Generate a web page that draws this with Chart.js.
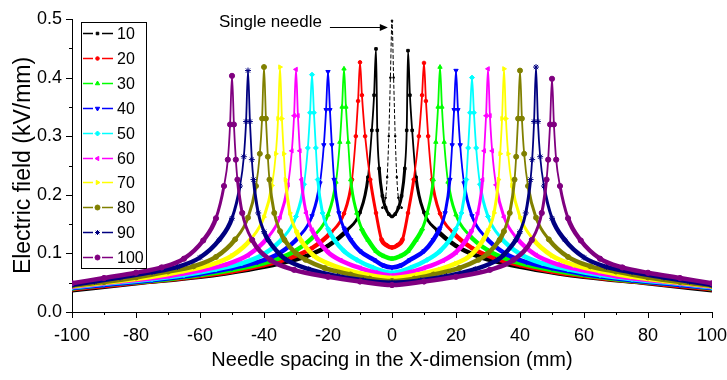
<!DOCTYPE html>
<html lang="en">
<head>
<meta charset="UTF-8">
<title>Electric field vs needle spacing</title>
<script src="https://cdn.jsdelivr.net/npm/chart.js"></script>
<style>
    body { margin: 0; background: #fff; }
</style>
</head>
<body>
<canvas id="fieldChart" width="727" height="380"></canvas>
<script>
    // needle spacing (mm) of each series
    const spacings = ['10', '20', '30', '40', '50', '60', '70', '80', '90', '100'];

    // [x (mm), E (kV/mm)]
    const s10 = [[-100,.037],[-80,.049],[-60,.060],[-45,.072],[-35,.083],[-27,.095],[-20,.113],[-14,.140],[-10,.170],[-7.5,.230],[-6.3,.31],[-5.6,.37],[-5,.449],
        [-4.6,.31],[-4,.245],[-3,.198],[-2,.178],[-1,.167],[0,.163],[1,.167],[2,.178],[3,.198],[4,.245],[4.6,.31],
        [5,.446],[5.6,.37],[6.3,.31],[7.5,.230],[10,.170],[14,.140],[20,.113],[27,.095],[35,.083],[45,.072],[60,.060],[80,.049],[100,.037]];
    const s20 = [[-100,.039],[-85,.047],[-65,.058],[-50,.069],[-40,.080],[-32,.092],[-25,.109],[-19,.136],[-15,.168],[-12.5,.226],[-11.3,.30],[-10.6,.36],[-10,.426],
        [-9.4,.37],[-8.4,.30],[-6.8,.226],[-5,.169],[-3.3,.124],[-1.7,.114],[0,.110],[1.7,.114],[3.3,.124],[5,.169],[6.8,.226],[8.4,.30],[9.4,.37],
        [10,.425],[10.6,.36],[11.3,.30],[12.5,.226],[15,.168],[19,.136],[25,.109],[32,.092],[40,.080],[50,.069],[65,.058],[85,.047],[100,.039]];
    const s30 = [[-100,.040],[-90,.046],[-70,.056],[-55,.067],[-45,.077],[-37,.088],[-30,.105],[-24,.132],[-20,.166],[-17.5,.222],[-16.3,.29],[-15.6,.35],[-15,.415],
        [-14.4,.35],[-13.7,.29],[-12.9,.226],[-11,.169],[-9.5,.142],[-7.5,.123],[-5,.104],[-2.5,.095],[0,.091],[2.5,.095],[5,.104],[7.5,.123],[9.5,.142],[11,.169],[12.9,.226],[13.7,.29],[14.4,.35],
        [15,.418],[15.6,.35],[16.3,.29],[17.5,.222],[20,.166],[24,.132],[30,.105],[37,.088],[45,.077],[55,.067],[70,.056],[90,.046],[100,.040]];
    const s40 = [[-100,.041],[-90,.046],[-75,.054],[-60,.065],[-50,.075],[-42,.085],[-35,.101],[-29,.129],[-25,.164],[-22.5,.220],[-21.3,.285],[-20.6,.345],[-20,.410],
        [-19.4,.345],[-18.8,.285],[-18.1,.226],[-16.6,.169],[-15,.143],[-12.9,.123],[-10,.104],[-5.6,.089],[-3,.080],[0,.076],[3,.080],[5.6,.089],[10,.104],[12.9,.123],[15,.143],[16.6,.169],[18.1,.226],[18.8,.285],[19.4,.345],
        [20,.412],[20.6,.345],[21.3,.285],[22.5,.220],[25,.164],[29,.129],[35,.101],[42,.085],[50,.075],[60,.065],[75,.054],[90,.046],[100,.041]];
    const s50 = [[-100,.042],[-90,.048],[-75,.056],[-65,.063],[-55,.073],[-47,.083],[-40,.099],[-34,.127],[-30,.163],[-27.5,.218],[-26.3,.28],[-25.6,.34],[-25,.405],
        [-24.4,.34],[-23.8,.28],[-23.2,.226],[-21.7,.169],[-20,.142],[-18,.123],[-15,.104],[-11,.089],[-6,.076],[0,.067],[6,.076],[11,.089],[15,.104],[18,.123],[20,.142],[21.7,.169],[23.2,.226],[23.8,.28],[24.4,.34],
        [25,.400],[25.6,.34],[26.3,.28],[27.5,.218],[30,.163],[34,.127],[40,.099],[47,.083],[55,.073],[65,.063],[75,.056],[90,.048],[100,.042]];
    const s60 = [[-100,.043],[-85,.052],[-70,.061],[-60,.071],[-52,.081],[-45,.097],[-39,.126],[-35,.162],[-32.5,.217],[-31.3,.275],[-30.6,.335],[-30,.414],
        [-29.4,.335],[-28.8,.275],[-28.3,.226],[-26.8,.169],[-25,.140],[-23.2,.123],[-20,.102],[-16,.088],[-10,.075],[-5,.067],[0,.062],[5,.067],[10,.075],[16,.088],[20,.102],[23.2,.123],[25,.140],[26.8,.169],[28.3,.226],[28.8,.275],[29.4,.335],
        [30,.415],[30.6,.335],[31.3,.275],[32.5,.217],[35,.162],[39,.126],[45,.097],[52,.081],[60,.071],[70,.061],[85,.052],[100,.043]];
    const s70 = [[-100,.044],[-85,.053],[-75,.060],[-65,.070],[-57,.080],[-50,.096],[-44,.125],[-40,.162],[-37.5,.216],[-36.3,.27],[-35.6,.33],[-35,.418],
        [-34.4,.33],[-33.8,.27],[-33.3,.226],[-31.9,.169],[-30,.139],[-28.5,.123],[-24.4,.096],[-20,.083],[-15,.073],[-8,.064],[0,.058],[8,.064],[15,.073],[20,.083],[24.4,.096],[28.5,.123],[30,.139],[31.9,.169],[33.3,.226],[33.8,.27],[34.4,.33],
        [35,.415],[35.6,.33],[36.3,.27],[37.5,.216],[40,.162],[44,.125],[50,.096],[57,.080],[65,.070],[75,.060],[85,.053],[100,.044]];
    const s80 = [[-100,.045],[-90,.051],[-80,.059],[-70,.069],[-62,.078],[-55,.094],[-49,.124],[-45,.161],[-42.5,.215],[-41.3,.27],[-40.6,.33],[-40,.418],
        [-39.4,.33],[-38.8,.265],[-38.3,.226],[-36.8,.169],[-35,.138],[-33.6,.123],[-30,.100],[-27,.089],[-21,.075],[-13,.064],[-7,.057],[0,.053],[7,.057],[13,.064],[21,.075],[27,.089],[30,.100],[33.6,.123],[35,.138],[36.8,.169],[38.3,.226],[38.8,.265],[39.4,.33],
        [40,.412],[40.6,.33],[41.3,.27],[42.5,.215],[45,.161],[49,.124],[55,.094],[62,.078],[70,.069],[80,.059],[90,.051],[100,.045]];
    const s90 = [[-100,.046],[-93,.052],[-85,.059],[-75,.068],[-67,.077],[-60,.093],[-54,.123],[-50,.160],[-47.5,.215],[-46.3,.265],[-45.6,.325],[-45,.412],
        [-44.4,.325],[-43.8,.26],[-43.3,.226],[-41.8,.169],[-40,.137],[-38.7,.123],[-35,.098],[-33,.089],[-26,.073],[-17,.061],[-9,.054],[0,.050],[9,.054],[17,.061],[26,.073],[33,.089],[35,.098],[38.7,.123],[40,.137],[41.8,.169],[43.3,.226],[43.8,.26],[44.4,.325],
        [45,.418],[45.6,.325],[46.3,.265],[47.5,.215],[50,.160],[54,.123],[60,.093],[67,.077],[75,.068],[85,.059],[93,.052],[100,.046]];
    const s100 = [[-100,.049],[-90,.058],[-80,.067],[-72,.076],[-65,.091],[-59,.122],[-55,.160],[-52.5,.215],[-51.3,.26],[-50.6,.32],[-50,.403],
        [-49.4,.32],[-48.8,.26],[-48.3,.226],[-46.8,.169],[-43.7,.123],[-38,.089],[-30.6,.072],[-20,.060],[-10,.052],[0,.046],[10,.052],[20,.060],[30.6,.072],[38,.089],[43.7,.123],[46.8,.169],[48.3,.226],[48.8,.26],[49.4,.32],
        [50,.398],[50.6,.32],[51.3,.26],[52.5,.215],[55,.160],[59,.122],[65,.091],[72,.076],[80,.067],[90,.058],[100,.049]];
    const singleNeedle = [[-3,.178],[-2,.195],[-1.5,.23],[-1,.30],[-0.5,.40],[0,.497],[0.5,.40],[1,.30],[1.5,.23],[2,.195],[3,.178]];

    const seriesData = [s10, s20, s30, s40, s50, s60, s70, s80, s90, s100];

    const xTicks = [-100, -80, -60, -40, -20, 0, 20, 40, 60, 80, 100];
    const xTickLabels = ['-100', '-80', '-60', '-40', '-20', '0', '20', '40', '60', '80', '100'];
    const yTickLabels = ['0.0', '0.1', '0.2', '0.3', '0.4', '0.5'];

    const colors = ['#000000', '#ff0000', '#00ff00', '#0000ff', '#00ffff', '#ff00ff', '#ffff00', '#808000', '#000080', '#800080'];
    const markers = ['rect', 'circle', 'triangle', 'triangle', 'rectRot', 'triangle', 'triangle', 'circle', 'star', 'circle'];
    const markerRot = [0, 0, 0, 180, 0, 270, 90, 0, 0, 0];
    const markerSize = [1.8, 1.8, 2.5, 2.5, 2.5, 2.5, 2.5, 2.5, 3, 2.6];

    const font = "'Liberation Sans', Arial, sans-serif";

    const datasets = seriesData.map((pts, i) => ({
        label: spacings[i],
        data: pts.map(p => ({x: p[0], y: p[1]})),
        borderColor: colors[i],
        backgroundColor: colors[i],
        borderWidth: 3.5,
        pointStyle: markers[i],
        rotation: markerRot[i],
        pointRadius: markerSize[i],
        pointBorderWidth: 1,
        cubicInterpolationMode: 'monotone',
        order: 10 - i,
        segment: {
            // thin near the spikes, thick bands lower down
            borderWidth: ctx => {
                const top = Math.max(ctx.p0.parsed.y, ctx.p1.parsed.y);
                return top > 0.25 ? 1.8 : (top > 0.16 ? 3 : 4.5);
            }
        }
    }));

    datasets.push({
        label: 'Single needle',
        data: singleNeedle.map(p => ({x: p[0], y: p[1]})),
        borderColor: '#000',
        backgroundColor: '#000',
        borderWidth: 1,
        borderDash: [4, 2],
        pointStyle: 'rect',
        pointRadius: 1,
        cubicInterpolationMode: 'monotone',
        order: 20
    });

    // tick marks: long at labelled values, short in between
    const tickMarks = {
        id: 'tickMarks',
        afterDraw(chart) {
            const {ctx, scales: {x, y}, chartArea} = chart;
            ctx.save();
            ctx.strokeStyle = '#000';
            ctx.lineWidth = 1;
            ctx.beginPath();
            for (let v = -100; v <= 100; v += 10) {
                const px = Math.round(x.getPixelForValue(v)) + 0.5;
                const len = v % 20 === 0 ? 6 : 3;
                ctx.moveTo(px, chartArea.bottom);
                ctx.lineTo(px, chartArea.bottom + len);
            }
            for (let k = 0; k <= 10; k++) {
                const py = Math.round(y.getPixelForValue(k * 0.05)) + 0.5;
                const len = k % 2 === 0 ? 6 : 3;
                ctx.moveTo(chartArea.left, py);
                ctx.lineTo(chartArea.left - len, py);
            }
            ctx.stroke();
            ctx.restore();
        }
    };

    // boxed legend in the upper left corner
    const boxLegend = {
        id: 'boxLegend',
        afterDraw(chart) {
            const ctx = chart.ctx;
            const left = 81, top = 22, w = 65, h = 246, step = 24.9;
            ctx.save();
            ctx.fillStyle = '#fff';
            ctx.fillRect(left, top, w, h);
            ctx.strokeStyle = '#000';
            ctx.lineWidth = 1;
            ctx.strokeRect(left + 0.5, top + 0.5, w, h);
            ctx.font = '16px ' + font;
            ctx.textBaseline = 'middle';
            spacings.forEach((lab, i) => {
                const ds = chart.data.datasets[i];
                const cy = Math.round(top + 11 + i * step) + 0.5;
                ctx.strokeStyle = ds.borderColor;
                ctx.fillStyle = ds.borderColor;
                ctx.lineWidth = 1.5;
                ctx.beginPath();
                ctx.moveTo(83, cy); ctx.lineTo(93, cy);
                ctx.moveTo(102, cy); ctx.lineTo(113, cy);
                ctx.stroke();
                ctx.lineWidth = 1;
                Chart.helpers.drawPoint(ctx, {pointStyle: ds.pointStyle, rotation: ds.rotation, radius: Math.min(ds.pointRadius, 2.5), borderWidth: 1}, 97.5, cy);
                ctx.fillStyle = '#000';
                ctx.fillText(lab, 117, cy + 1);
            });
            ctx.restore();
        }
    };

    // "Single needle" label with arrow
    const needleNote = {
        id: 'needleNote',
        afterDraw(chart) {
            const {ctx, scales: {x, y}} = chart;
            const ty = y.getPixelForValue(0.495);
            const ay = Math.round(y.getPixelForValue(0.486)) + 0.5;
            const x0 = x.getPixelForValue(-19.4);
            const x1 = x.getPixelForValue(-1.3);
            ctx.save();
            ctx.fillStyle = '#000';
            ctx.strokeStyle = '#000';
            ctx.font = '17px ' + font;
            ctx.textAlign = 'center';
            ctx.textBaseline = 'middle';
            ctx.fillText('Single needle', x.getPixelForValue(-38), ty);
            ctx.lineWidth = 1.2;
            ctx.beginPath();
            ctx.moveTo(x0, ay);
            ctx.lineTo(x1 - 6, ay);
            ctx.stroke();
            ctx.beginPath();
            ctx.moveTo(x1, ay);
            ctx.lineTo(x1 - 8, ay - 3.5);
            ctx.lineTo(x1 - 8, ay + 3.5);
            ctx.closePath();
            ctx.fill();
            ctx.restore();
        }
    };

    new Chart(document.getElementById('fieldChart').getContext('2d'), {
        type: 'line',
        data: {datasets: datasets},
        options: {
            responsive: false,
            animation: false,
            layout: {padding: {top: 19, right: 15, bottom: 0, left: 0}},
            plugins: {
                legend: {display: false},
                tooltip: {enabled: false}
            },
            scales: {
                x: {
                    type: 'linear',
                    min: -100,
                    max: 100,
                    grid: {display: false, drawTicks: false},
                    border: {display: true, color: '#000', width: 1},
                    ticks: {
                        stepSize: 20,
                        padding: 13,
                        maxRotation: 0,
                        color: '#000',
                        font: {family: font, size: 18},
                        callback: v => {
                            const k = xTicks.indexOf(Math.round(v));
                            return k >= 0 ? xTickLabels[k] : '';
                        }
                    },
                    title: {
                        display: true,
                        text: 'Needle spacing in the X-dimension (mm)',
                        color: '#000',
                        font: {family: font, size: 20},
                        padding: {top: 0, bottom: 8}
                    },
                    afterFit: scale => {
                        scale.height = 68;
                        scale.paddingLeft = 0;
                        scale.paddingRight = 0;
                    }
                },
                y: {
                    min: 0,
                    max: 0.5,
                    grid: {display: false, drawTicks: false},
                    border: {display: true, color: '#000', width: 1},
                    ticks: {
                        stepSize: 0.1,
                        padding: 10,
                        color: '#000',
                        font: {family: font, size: 18},
                        callback: v => yTickLabels[Math.round(v * 10)]
                    },
                    title: {
                        display: true,
                        text: 'Electric field (kV/mm)',
                        color: '#000',
                        font: {family: font, size: 23},
                        padding: {top: 10, bottom: 0}
                    },
                    afterFit: scale => {
                        scale.width = 72;
                        scale.paddingTop = 0;
                        scale.paddingBottom = 0;
                    }
                }
            }
        },
        plugins: [tickMarks, boxLegend, needleNote]
    });
</script>
</body>
</html>
